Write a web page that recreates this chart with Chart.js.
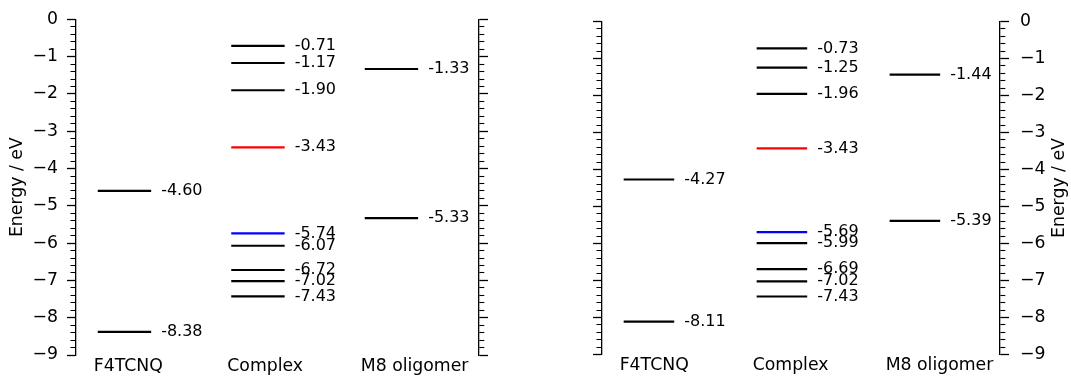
<!DOCTYPE html>
<html>
<head>
<meta charset="utf-8">
<script src="https://cdn.jsdelivr.net/npm/chart.js@4.4.1/dist/chart.umd.min.js"></script>
<style>
  html, body { margin: 0; padding: 0; background: #fff; }
  #wrap { position: relative; width: 1071px; height: 376px; overflow: hidden; }
  canvas { position: absolute; top: 0; }
  #left { left: 0; }
  #right { left: 535px; }
</style>
</head>
<body>
<div id="wrap">
  <canvas id="left" width="535" height="376"></canvas>
  <canvas id="right" width="536" height="376"></canvas>
</div>
<script>
// Columns of the level diagram
const categories = ['F4TCNQ', 'Complex', 'M8 oligomer'];

// Energy axis
const energyMin = -9;
const energyMax = 0;
const minorStep = 0.2;
const tickLabels = ['0', '\u22121', '\u22122', '\u22123', '\u22124', '\u22125', '\u22126', '\u22127', '\u22128', '\u22129'];
const axisTitle = 'Energy / eV';

// Left diagram: orbital energies (eV)
const leftF4TCNQ = [-4.60, -8.38];
const leftComplex = [-0.71, -1.17, -1.90, -3.43, -5.74, -6.07, -6.72, -7.02, -7.43];
const leftM8 = [-1.33, -5.33];

// Right diagram: orbital energies (eV)
const rightF4TCNQ = [-4.27, -8.11];
const rightComplex = [-0.73, -1.25, -1.96, -3.43, -5.69, -5.99, -6.69, -7.02, -7.43];
const rightM8 = [-1.44, -5.39];

// Complex frontier orbitals get their own colour
const complexLumoIndex = 3;
const complexHomoIndex = 4;

const FONT = 'DejaVu Sans';
const AXIS_FONT_SIZE = 17.3;
const VALUE_FONT_SIZE = 16;
Chart.defaults.font.family = FONT;
Chart.defaults.color = '#000';

const isMajor = v => Math.abs(v - Math.round(v)) < 1e-6;

function levelColor(col, idx) {
  if (col === 1 && idx === complexLumoIndex) return '#ff0000';
  if (col === 1 && idx === complexHomoIndex) return '#0000ff';
  return '#000000';
}

function levelDatasets(columns, hw) {
  const sets = [];
  columns.forEach((values, col) => {
    values.forEach((v, idx) => {
      sets.push({
        data: [{ x: col - hw, y: v }, { x: col + hw, y: v }],
        borderColor: levelColor(col, idx),
        borderWidth: 2.2,
        pointRadius: 0,
        pointHoverRadius: 0,
        showLine: true,
        fill: false
      });
    });
  });
  return sets;
}

function energyScale(position, showLabels, width, labelPad, withTitle) {
  return {
    type: 'linear',
    position: position,
    min: energyMin,
    max: energyMax,
    ticks: {
      stepSize: minorStep,
      autoSkip: false,
      display: showLabels,
      padding: labelPad,
      font: { size: AXIS_FONT_SIZE },
      color: '#000',
      callback: v => isMajor(v) ? tickLabels[Math.round(-v)] : ''
    },
    grid: {
      display: true,
      drawOnChartArea: false,
      drawTicks: true,
      tickLength: 9,
      tickColor: '#000',
      tickWidth: c => isMajor(c.tick.value) ? 1.3 : 1.1,
      tickBorderDash: c => isMajor(c.tick.value) ? [] : (position === 'left' ? [0, 3.5, 5, 100] : [5, 100])
    },
    border: { display: true, color: '#000', width: 1.3 },
    title: withTitle
      ? { display: true, text: axisTitle, font: { size: AXIS_FONT_SIZE }, color: '#000', padding: { top: 7, bottom: 0 } }
      : { display: false },
    afterFit: s => { s.width = width; }
  };
}

function categoryScale(xmin, xmax, hw) {
  return {
    type: 'linear',
    position: 'bottom',
    min: xmin,
    max: xmax,
    afterBuildTicks: s => { s.ticks = categories.map((c, i) => ({ value: i - hw })); },
    ticks: {
      autoSkip: false,
      maxRotation: 0,
      minRotation: 0,
      align: 'start',
      labelOffset: -4,
      padding: 1,
      font: { size: AXIS_FONT_SIZE },
      color: '#000',
      callback: (v, i) => categories[i]
    },
    grid: { display: false, drawTicks: false },
    border: { display: false },
    afterFit: s => { s.height = 21; }
  };
}

// Writes each level's energy to the right of its line
const levelLabels = {
  id: 'levelLabels',
  afterDatasetsDraw(chart) {
    const ctx = chart.ctx;
    ctx.save();
    ctx.font = VALUE_FONT_SIZE + 'px "' + FONT + '"';
    ctx.fillStyle = '#000';
    ctx.textAlign = 'left';
    ctx.textBaseline = 'middle';
    chart.data.datasets.forEach((ds, i) => {
      const end = chart.getDatasetMeta(i).data[1];
      ctx.fillText(ds.data[1].y.toFixed(2), end.x + 10, end.y);
    });
    ctx.restore();
  }
};

// Axis title on the right-hand energy axis, reading bottom to top
const rightTitle = {
  id: 'rightTitle',
  afterDraw(chart) {
    const s = chart.scales.y2;
    const ctx = chart.ctx;
    ctx.save();
    ctx.font = AXIS_FONT_SIZE + 'px "' + FONT + '"';
    ctx.fillStyle = '#000';
    ctx.textAlign = 'center';
    ctx.textBaseline = 'middle';
    ctx.translate(s.right - 11, (s.top + s.bottom) / 2);
    ctx.rotate(-Math.PI / 2);
    ctx.fillText(axisTitle, 0, 0);
    ctx.restore();
  }
};

function baseOptions(padding) {
  return {
    responsive: false,
    animation: false,
    devicePixelRatio: 1,
    layout: { padding: padding },
    plugins: { legend: { display: false }, tooltip: { enabled: false } },
    events: []
  };
}

// Left diagram
const leftOpts = baseOptions({ left: 0, top: 19, right: 44, bottom: 0 });
leftOpts.scales = {
  x: categoryScale(-0.363, 2.656, 0.2),
  y: energyScale('left', true, 76, 9, true),
  y2: energyScale('right', false, 12, 0, false)
};
new Chart(document.getElementById('left'), {
  type: 'scatter',
  data: { datasets: levelDatasets([leftF4TCNQ, leftComplex, leftM8], 0.2) },
  options: leftOpts,
  plugins: [levelLabels]
});

// Right diagram
const rightOpts = baseOptions({ left: 0, top: 19, right: 0, bottom: 0 });
rightOpts.scales = {
  x: categoryScale(-0.353, 2.64, 0.19),
  y: energyScale('left', false, 67, 0, false),
  y2: energyScale('right', true, 71, 11, false)
};
new Chart(document.getElementById('right'), {
  type: 'scatter',
  data: { datasets: levelDatasets([rightF4TCNQ, rightComplex, rightM8], 0.19) },
  options: rightOpts,
  plugins: [levelLabels, rightTitle]
});
</script>
</body>
</html>
